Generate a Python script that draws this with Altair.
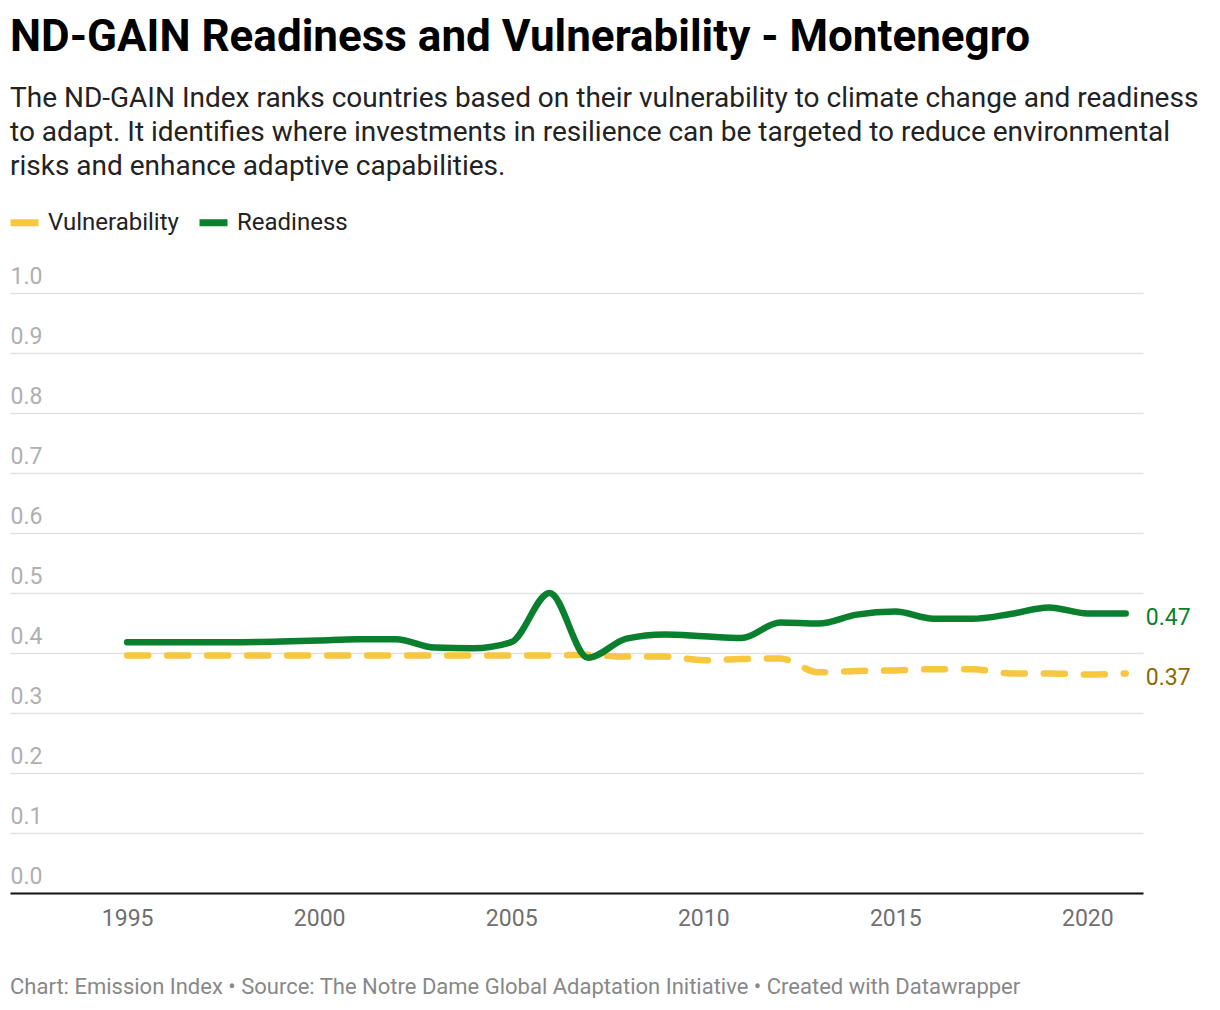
import altair as alt
import pandas as pd

years = list(range(1995, 2022))
readiness = [0.418, 0.418, 0.418, 0.418, 0.419, 0.421, 0.423, 0.423, 0.409, 0.408,
             0.418, 0.500, 0.392, 0.424, 0.431, 0.428, 0.425, 0.451, 0.449, 0.464,
             0.469, 0.457, 0.457, 0.465, 0.476, 0.466, 0.466]
vulnerability = [0.396, 0.396, 0.396, 0.396, 0.396, 0.396, 0.396, 0.396, 0.396, 0.396,
                 0.396, 0.396, 0.397, 0.394, 0.394, 0.388, 0.390, 0.391, 0.368, 0.370,
                 0.371, 0.373, 0.373, 0.366, 0.366, 0.364, 0.366]
series_names = ["Vulnerability", "Readiness"]
line_colors = ["#f7c740", "#0a7f2e"]
label_colors = ["#8d6a00", "#0a7f2e"]
x_ticks = [1995, 2000, 2005, 2010, 2015, 2020]
y_ticks = [0.0, 0.1, 0.2, 0.3, 0.4, 0.5, 0.6, 0.7, 0.8, 0.9, 1.0]

title_text = "ND-GAIN Readiness and Vulnerability - Montenegro"
subtitle_lines = [
    "The ND-GAIN Index ranks countries based on their vulnerability to climate change and readiness",
    "to adapt. It identifies where investments in resilience can be targeted to reduce environmental",
    "risks and enhance adaptive capabilities.",
]
footer_text = "Chart: Emission Index \u2022 Source: The Notre Dame Global Adaptation Initiative \u2022 Created with Datawrapper"

df = pd.DataFrame({
    "year": years + years,
    "value": vulnerability + readiness,
    "series": [series_names[0]] * len(years) + [series_names[1]] * len(years),
})

W, H = 1133, 600
FONT = "Roboto"

x_enc = alt.X(
    "year:Q",
    scale=alt.Scale(domain=[1991.95, 2021.45], nice=False, zero=False),
    axis=alt.Axis(values=x_ticks, format="d", grid=False, ticks=False, domain=True,
                  domainColor="#111111", domainWidth=2, labelColor="#707070",
                  labelFontSize=23, labelPadding=14, title=None, labelFont=FONT),
)
y_enc = alt.Y(
    "value:Q",
    scale=alt.Scale(domain=[0, 1], nice=False),
    axis=alt.Axis(values=y_ticks, format=".1f", grid=True, gridColor="#e2e2e2", gridWidth=1.5,
                  domain=False, ticks=False, labelAlign="left", labelBaseline="alphabetic",
                  labelPadding=0, labelOffset=-10, labelColor="#b0b0b0", labelFontSize=23,
                  title=None, labelFont=FONT),
)

color_scale = alt.Scale(domain=series_names, range=line_colors)
legend = alt.Legend(orient="none", legendX=-3, legendY=-88, direction="horizontal",
                    title=None, symbolType="stroke", symbolStrokeWidth=7,
                    symbolSize=784, symbolDash=[1, 0], labelFontSize=24, labelColor="#222222",
                    labelFont=FONT, labelOffset=6, columnPadding=6)

# legend-only layer (no rows drawn) so the legend swatches are solid
legend_layer = alt.Chart(df).transform_filter("false").mark_line(
    strokeWidth=7, strokeCap="round"
).encode(x=x_enc, y=y_enc, color=alt.Color("series:N", scale=color_scale, legend=legend))

vuln_line = alt.Chart(df).transform_filter(alt.datum.series == series_names[0]).mark_line(
    interpolate="monotone", strokeWidth=6.5, strokeCap="round", strokeJoin="round",
    strokeDash=[21, 19]
).encode(x=x_enc, y=y_enc, color=alt.Color("series:N", scale=color_scale))

ready_line = alt.Chart(df).transform_filter(alt.datum.series == series_names[1]).mark_line(
    interpolate="monotone", strokeWidth=6.5, strokeCap="round", strokeJoin="round"
).encode(x=x_enc, y=y_enc, color=alt.Color("series:N", scale=color_scale))

last_year = years[-1]
end_labels = []
for name, col in zip(series_names, label_colors):
    end_labels.append(
        alt.Chart(df).transform_filter(
            (alt.datum.year == last_year) & (alt.datum.series == name)
        ).mark_text(align="left", baseline="middle", dx=20, dy=5, fontSize=23, font=FONT, color=col).encode(
            x="year:Q", y="value:Q", text=alt.Text("value:Q", format=".2f")
        )
    )

footer = alt.Chart(pd.DataFrame({"t": [footer_text]})).mark_text(
    align="left", baseline="middle", fontSize=22, font=FONT, color="#888888"
).encode(x=alt.value(0), y=alt.value(694), text="t:N")

chart = alt.layer(legend_layer, vuln_line, ready_line, *end_labels, footer).properties(
    width=W, height=H,
    title=alt.TitleParams(
        text=title_text, subtitle=subtitle_lines, anchor="start", frame="group",
        font=FONT, fontSize=44, fontWeight="bold", color="#000000",
        subtitleFont=FONT, subtitleFontSize=28, subtitleColor="#222222",
        subtitleLineHeight=34, subtitlePadding=25, offset=24,
    ),
    autosize=alt.AutoSizeParams(type="none"),
    padding={"left": 2, "top": 285, "right": 65, "bottom": 105},
).configure(font=FONT, background="white").configure_view(stroke=None)

chart.save("out.html", embed_options={"renderer": "svg", "actions": False})
